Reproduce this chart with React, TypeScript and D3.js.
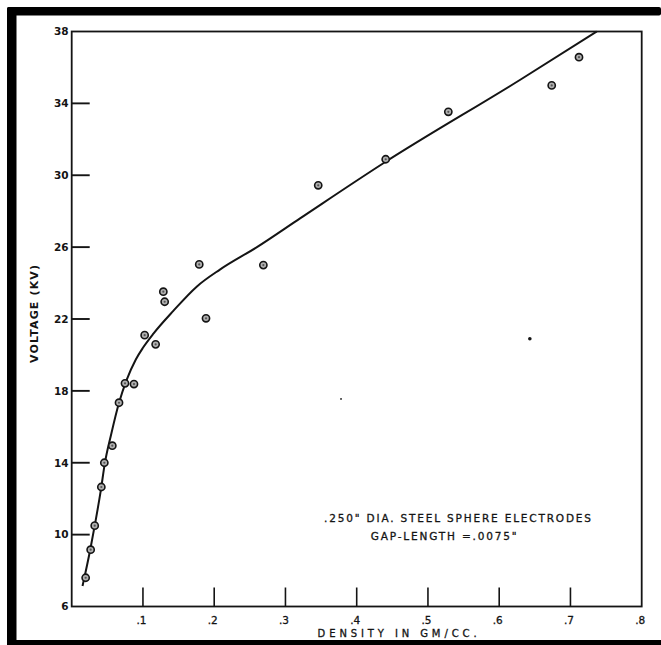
import React from "react";
import * as d3 from "d3";

// Measured data points: density (gm/cc) vs breakdown voltage (kV)
const densities = [0.0196, 0.0266, 0.0323, 0.0416, 0.0458, 0.057, 0.0664, 0.0748, 0.0874, 0.1024, 0.1178, 0.1286, 0.1305, 0.179, 0.1885, 0.269, 0.346, 0.4407, 0.5286, 0.6737, 0.712];
const voltages = [7.6, 9.16, 10.5, 12.65, 14.0, 14.95, 17.34, 18.42, 18.38, 21.1, 20.59, 23.52, 22.96, 25.04, 22.04, 25.0, 29.44, 30.89, 33.53, 35.0, 36.57];

// Hand-drawn fitted curve (vertices)
const curveDensity = [0.0152, 0.0262, 0.0323, 0.041, 0.0462, 0.0555, 0.0664, 0.077, 0.09, 0.1, 0.115, 0.1426, 0.1754, 0.208, 0.26, 0.3205, 0.4407, 0.629, 0.737];
const curveVoltage = [7.14, 9.2, 10.5, 12.5, 13.9, 15.6, 17.34, 18.6, 19.75, 20.4, 21.2, 22.45, 23.8, 24.75, 26.0, 27.6, 30.75, 35.3, 38.0];

// Scan specks visible on the sheet
const speckDensity = [0.643, 0.378];
const speckVoltage = [20.9, 17.55];
const speckSize = [1.8, 0.9];

const yTicks = [6, 10, 14, 18, 22, 26, 30, 34, 38];
const yTickLabels = ["6", "10", "14", "18", "22", "26", "30", "34", "38"];
const xTicks = [0.1, 0.2, 0.3, 0.4, 0.5, 0.6, 0.7, 0.8];
const xTickLabels = [".1", ".2", ".3", ".4", ".5", ".6", ".7", ".8"];

const xTitle = "DENSITY IN GM/CC.";
const yTitle = "VOLTAGE (KV)";
const note1 = ".250\" DIA. STEEL SPHERE ELECTRODES";
const note2 = "GAP-LENGTH =.0075\"";

export default function App() {
  const W = 661, H = 645;
  const left = 71.7, right = 641.7, top = 31.5, bottom = 606.5;
  const x = d3.scaleLinear().domain([0, 0.8]).range([left, right]);
  const y = d3.scaleLinear().domain([6, 38]).range([bottom, top]);
  const ink = "#141414";
  const font = "'DejaVu Sans', sans-serif";

  const curvePts: [number, number][] = curveDensity.map((d, i) => [d, curveVoltage[i]]);
  const line = d3
    .line<[number, number]>()
    .x((d) => x(d[0]))
    .y((d) => y(d[1]))
    .curve(d3.curveMonotoneX);

  return (
    <svg
      width={W}
      height={H}
      style={{ position: "absolute", left: 0, top: 0, display: "block", background: "#fff" }}
    >
      {/* black frame on top, left and bottom */}
      <rect x={7} y={7} width={W - 7} height={8.5} fill="#000" rx={2} />
      <rect x={7} y={7} width={9.5} height={H - 7} fill="#000" rx={2} />
      <rect x={7} y={640} width={W - 7} height={5} fill="#000" />

      {/* plot box */}
      <rect x={left} y={top} width={right - left} height={bottom - top} fill="none" stroke={ink} strokeWidth={1.8} />

      {/* y ticks */}
      {yTicks.map((t, i) => (
        <g key={"yt" + i}>
          {i > 0 && i < yTicks.length - 1 && (
            <line x1={left} x2={left + 18} y1={y(t)} y2={y(t)} stroke={ink} strokeWidth={1.9} />
          )}
          <text
            x={68.5}
            y={y(t)}
            dy="0.36em"
            textAnchor="end"
            fontFamily={font}
            fontWeight="bold"
            fontSize={10.5}
            fill={ink}
          >
            {yTickLabels[i]}
          </text>
        </g>
      ))}

      {/* x ticks */}
      {xTicks.map((t, i) => (
        <g key={"xt" + i}>
          {i < xTicks.length - 1 && (
            <line x1={x(t)} x2={x(t)} y1={bottom} y2={bottom - 19} stroke={ink} strokeWidth={1.6} />
          )}
          <text
            x={x(t) + 3.6}
            y={620}
            dy="0.36em"
            textAnchor="end"
            fontFamily={font}
            fontSize={10.5}
            fill={ink}
            stroke={ink}
            strokeWidth={0.3}
          >
            {xTickLabels[i]}
          </text>
        </g>
      ))}

      {/* axis titles */}
      <text
        x={317.6}
        y={633}
        dy="0.36em"
        textLength={159}
        lengthAdjust="spacing"
        fontFamily={font}
        fontSize={10}
        fill={ink}
        stroke={ink}
        strokeWidth={0.3}
      >
        {xTitle}
      </text>
      <text
        transform={`translate(34,363) rotate(-90)`}
        dy="0.36em"
        textLength={98}
        lengthAdjust="spacing"
        fontFamily={font}
        fontWeight="bold"
        fontSize={11}
        fill={ink}
      >
        {yTitle}
      </text>

      {/* annotation */}
      <text
        x={324}
        y={518}
        dy="0.36em"
        textLength={267}
        lengthAdjust="spacing"
        fontFamily={font}
        fontSize={10.5}
        fill={ink}
        stroke={ink}
        strokeWidth={0.3}
      >
        {note1}
      </text>
      <text
        x={370.7}
        y={536}
        dy="0.36em"
        textLength={146}
        lengthAdjust="spacing"
        fontFamily={font}
        fontSize={10.5}
        fill={ink}
        stroke={ink}
        strokeWidth={0.3}
      >
        {note2}
      </text>

      {/* fitted curve */}
      <path d={line(curvePts) || ""} fill="none" stroke={ink} strokeWidth={2} strokeLinejoin="round" />

      {/* data points */}
      {densities.map((d, i) => (
        <g key={"p" + i}>
          <circle cx={x(d)} cy={y(voltages[i])} r={3.6} fill="#b0b0b0" stroke={ink} strokeWidth={1.6} />
          <circle cx={x(d)} cy={y(voltages[i])} r={1.1} fill="#555" />
        </g>
      ))}

      {/* specks */}
      {speckDensity.map((d, i) => (
        <circle key={"s" + i} cx={x(d)} cy={y(speckVoltage[i])} r={speckSize[i]} fill={ink} />
      ))}
    </svg>
  );
}
